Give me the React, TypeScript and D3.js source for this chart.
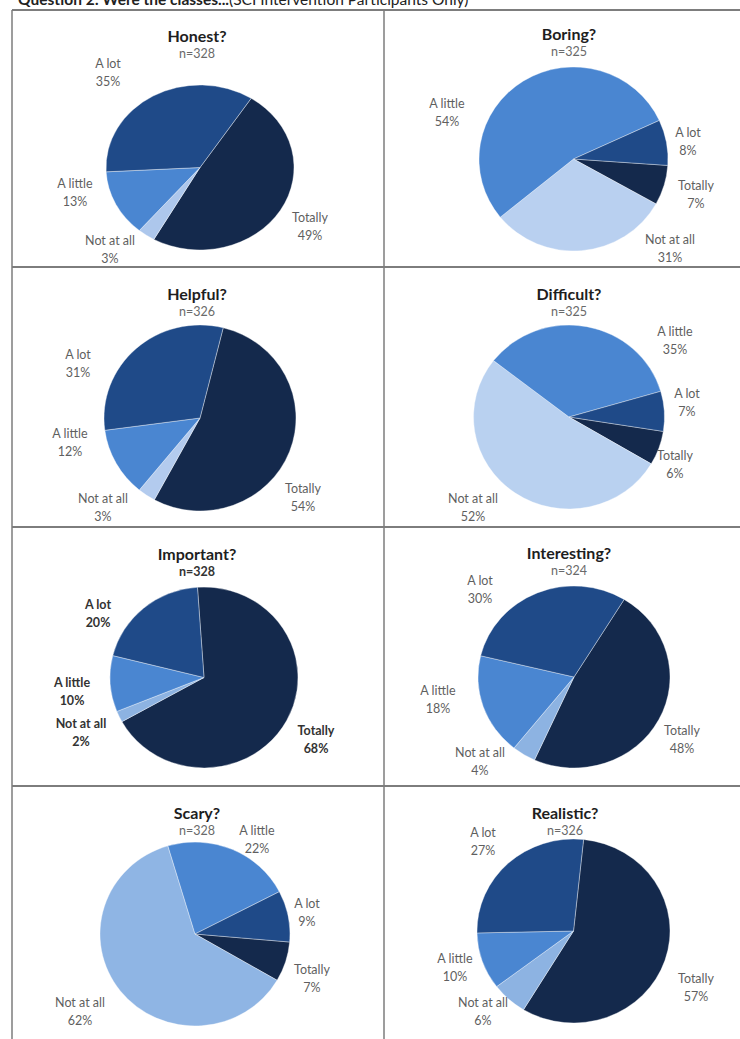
import React from 'react';
import * as d3 from 'd3';

// slice order, clockwise from each chart's start angle
const categories = ['Totally', 'Not at all', 'A little', 'A lot'];

const titles = ['Honest?', 'Boring?', 'Helpful?', 'Difficult?', 'Important?', 'Interesting?', 'Scary?', 'Realistic?'];
const sampleSizes = [328, 325, 326, 325, 328, 324, 328, 326];

const honest = [49, 3, 13, 35];
const boring = [7, 31, 54, 8];
const helpful = [54, 3, 12, 31];
const difficult = [6, 52, 35, 7];
const important = [68, 2, 10, 20];
const interesting = [48, 4, 18, 30];
const scary = [7, 62, 22, 9];
const realistic = [57, 6, 10, 27];

const series = [honest, boring, helpful, difficult, important, interesting, scary, realistic];

// layout (pixels) — pies were resized a little unevenly in the original doc
const pieCenters: [number, number][] = [
  [200, 167.5], [573.5, 159], [200, 418], [569, 417],
  [204, 677.5], [574, 677], [195, 934], [573.5, 931],
];
const pieRadii: [number, number][] = [
  [94, 82.5], [94.5, 92], [96, 93], [95.5, 92],
  [94, 90.5], [96, 91], [95, 92], [96.5, 92],
];
const startAngles = [33, 94, 14, 99, -4, 31.5, 95, 6];
const titlePos: [number, number][] = [
  [197, 35], [569, 33], [197, 293], [569, 293],
  [197, 553], [569, 552], [197, 812], [565, 812],
];
// label offsets from pie center, first line [dx, dy]; order = categories
const labelOffsets: [number, number][][] = [
  [[110, 49.5], [-90, 72.5], [-125, 15.5], [-92, -104.5]],
  [[122.5, 26], [96.5, 80], [-126.5, -56], [114.5, -27]],
  [[103, 70], [-97, 80], [-130, 15], [-122, -64]],
  [[106, 38], [-96, 81], [106, -86], [118, -24]],
  [[112, 52.5], [-123, 45.5], [-132, 4.5], [-106, -73.5]],
  [[108, 53], [-94, 75], [-136, 13], [-94, -97]],
  [[117, 35], [-115, 68], [62, -104], [112, -31]],
  [[122.5, 47], [-90.5, 71], [-118.5, 27], [-90.5, -99]],
];

const baseColors = ['#14294c', '#b7cff0', '#4a86d1', '#1f4a88'];
const notAtAllColors = ['#adc7ec', '#b9d0f0', '#b3cbee', '#b9d1f0', '#8db3e2', '#8db3e2', '#8fb5e4', '#8db3e2'];

const W = 740;
const H = 1039;
const FONT = 'Lato, "Open Sans", sans-serif';

function PieCell({ idx }: { idx: number }) {
  const values = series[idx];
  const [cx, cy] = pieCenters[idx];
  const [rx, ry] = pieRadii[idx];
  const a0 = (startAngles[idx] * Math.PI) / 180;
  const pie = d3.pie<number>().sort(null).value(d => d)
    .startAngle(a0).endAngle(a0 + 2 * Math.PI);
  const arc = d3.arc<d3.PieArcDatum<number>>().innerRadius(0).outerRadius(ry);
  const arcs = pie(values);
  const bold = idx === 4;
  const colors = baseColors.map((c, i) => (i === 1 ? notAtAllColors[idx] : c));
  const [tx, ty] = titlePos[idx];

  return (
    <g>
      <text x={tx} y={ty} textAnchor="middle" dominantBaseline="central"
        fontSize={16} fontWeight={700} fill="#1e1e1e">{titles[idx]}</text>
      <text x={tx} y={ty + 18} textAnchor="middle" dominantBaseline="central"
        fontSize={12.5} fontWeight={bold ? 700 : 400} fill={bold ? '#333' : '#6a6a6a'}>
        n={sampleSizes[idx]}
      </text>
      <g transform={`translate(${cx},${cy}) scale(${rx / ry},1)`}>
        {arcs.map((a, i) => (
          <path key={i} d={arc(a) || ''} fill={colors[i]}
            stroke="#ffffff" strokeWidth={0.6} strokeOpacity={0.6} />
        ))}
      </g>
      {arcs.map((a, i) => {
        const [dx, dy] = labelOffsets[idx][i];
        return (
          <g key={i} transform={`translate(${cx + dx},${cy + dy})`}
            fill={bold ? '#333' : '#5f5f5f'} fontSize={12.5} fontWeight={bold ? 700 : 400}>
            <text textAnchor="middle" dominantBaseline="central">{categories[i]}</text>
            <text y={18} textAnchor="middle" dominantBaseline="central">{d3.format('d')(a.data)}%</text>
          </g>
        );
      })}
    </g>
  );
}

export default function App() {
  const rowLines = [267, 527, 786];
  const gridStroke = '#7d7d7d';
  return (
    <svg width={W} height={H} style={{ position: 'absolute', left: 0, top: 0, background: '#fff' }}
      fontFamily={FONT}>
      <rect width={W} height={H} fill="#fff" />
      <text x={18} y={4.5} fontSize={15.5} fill="#222">
        <tspan fontWeight={700}>Question 2: Were the classes...</tspan>
        <tspan>(SCI Intervention Participants Only)</tspan>
      </text>
      {/* table frame */}
      <line x1={12} x2={W} y1={10} y2={10} stroke={gridStroke} strokeWidth={2} />
      <line x1={12} x2={12} y1={10} y2={H} stroke={gridStroke} strokeWidth={1.5} />
      <line x1={384} x2={384} y1={10} y2={H} stroke={gridStroke} strokeWidth={1.5} />
      {rowLines.map(y => (
        <line key={y} x1={12} x2={W} y1={y} y2={y} stroke={gridStroke} strokeWidth={2} />
      ))}
      {series.map((_, i) => <PieCell key={i} idx={i} />)}
    </svg>
  );
}
